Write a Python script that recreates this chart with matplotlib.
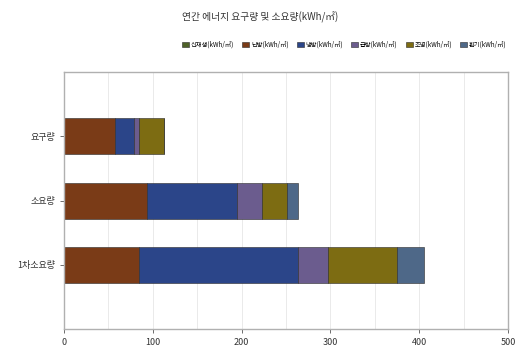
import numpy as np
import matplotlib.pyplot as plt

plt.rcParams['font.family'] = ['Noto Sans CJK KR', 'DejaVu Sans']

# 항목 (위에서 아래 순서)
categories = ["요구량", "소요량", "1차소요량"]

# 용도별 값 (kWh/㎡)
renewable = [0, 0, 0]
heating = [57, 94, 84.5]
cooling = [22, 101, 179.5]
hot_water = [5, 28, 33]
lighting = [29, 28, 78]
ventilation = [0, 12, 30]

series_names = ["신재생(kWh/㎡)", "난방(kWh/㎡)", "냉방(kWh/㎡)",
                "급탕(kWh/㎡)", "조명(kWh/㎡)", "환기(kWh/㎡)"]
series_values = [renewable, heating, cooling, hot_water, lighting, ventilation]
series_colors = ["#4f6228", "#7a3b17", "#2b4589", "#6b5c8e", "#7d6c12", "#4e6888"]

fig = plt.figure(figsize=(5.26, 3.5), dpi=100)
ax = fig.add_axes([0.1217, 0.06, 0.844, 0.734])

# 첫 항목이 위에 오도록 y 위치를 뒤집음
ypos = np.arange(len(categories))[::-1]
left = np.zeros(len(categories))
for name, vals, col in zip(series_names, series_values, series_colors):
    vals = np.array(vals, dtype=float)
    ax.barh(ypos, vals, left=left, height=0.56, color=col,
            edgecolor="#2a2a2a", linewidth=0.4, label=name)
    left += vals

ax.set_xlim(0, 500)
ax.set_ylim(-1, 3)
ax.set_xticks(np.arange(0, 501, 100))
ax.set_xticks(np.arange(0, 501, 50), minor=True)
ax.set_yticks(ypos)
ax.set_yticklabels(categories)
ax.tick_params(axis="both", labelsize=6.5, length=3, width=0.6, colors="#555555",
               labelcolor="#333333")
ax.tick_params(axis="x", which="minor", length=0)
ax.grid(axis="x", which="both", color="#e6e6e6", linewidth=0.6)
ax.set_axisbelow(True)
for s in ax.spines.values():
    s.set_color("#b0b0b0")
    s.set_linewidth(1.0)

fig.text(0.495, 0.95, "연간 에너지 요구량 및 소요량(kWh/㎡)", ha="center", va="center",
         fontsize=7, color="#333333")

fig.legend(loc="center", bbox_to_anchor=(0.655, 0.872), ncol=6, fontsize=4.5,
           frameon=False, handlelength=1.1, handleheight=1.0, handletextpad=0.3,
           columnspacing=1.3)

fig.savefig("out.png", dpi=100)
